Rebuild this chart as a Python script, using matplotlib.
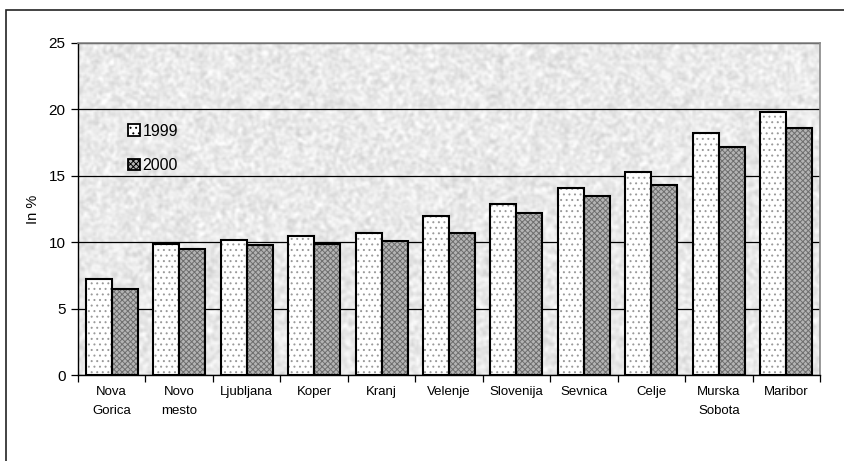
import numpy as np
import matplotlib
matplotlib.use("Agg")
import matplotlib.pyplot as plt
from matplotlib.patches import Rectangle, Patch

plt.rcParams["font.family"] = ["Liberation Sans", "DejaVu Sans"]
plt.rcParams["hatch.linewidth"] = 0.7

cities = ["Nova\nGorica", "Novo\nmesto", "Ljubljana", "Koper", "Kranj", "Velenje",
          "Slovenija", "Sevnica", "Celje", "Murska\nSobota", "Maribor"]
y1999 = [7.2, 9.9, 10.2, 10.5, 10.7, 12.0, 12.9, 14.1, 15.3, 18.2, 19.8]
y2000 = [6.5, 9.5, 9.8, 9.9, 10.1, 10.7, 12.2, 13.5, 14.3, 17.2, 18.6]

fig = plt.figure(figsize=(8.44, 4.61), dpi=100)
# outer frame of the chart object
fig.patches.append(Rectangle((6 / 844, -0.1), 1.2, 1 - 10 / 461 + 0.1,
                             transform=fig.transFigure, fill=False,
                             edgecolor="#222222", lw=1.2))
ax = fig.add_axes([78 / 844, 1 - 375 / 461, 742 / 844, 332 / 461])

# granite-like plot area fill
rng = np.random.default_rng(7)
tex = rng.random((200, 440))
k = np.array([0.25, 0.5, 0.25])
tex = np.apply_along_axis(lambda r: np.convolve(r, k, mode="same"), 1, tex)
tex = np.apply_along_axis(lambda c: np.convolve(c, k, mode="same"), 0, tex)
tex = tex[2:-2, 2:-2]
tex = (tex - tex.mean()) / tex.std()
n = len(cities)
ax.imshow(0.915 + 0.03 * tex, cmap="gray", vmin=0, vmax=1, aspect="auto",
          extent=(-0.5, n - 0.5, 0, 25), zorder=0, interpolation="bilinear")

x = np.arange(n)
w = 0.385
# pattern fills first, then black outlines on top
ax.bar(x - w / 2, y1999, w, color="white", edgecolor="#9a9a9a", lw=0,
       hatch="...", zorder=3)
ax.bar(x + w / 2, y2000, w, color="#b4b4b4", edgecolor="#6e6e6e", lw=0,
       hatch="xxxxxx", zorder=3)
ax.bar(x - w / 2, y1999, w, fill=False, edgecolor="black", lw=1.5, zorder=4)
ax.bar(x + w / 2, y2000, w, fill=False, edgecolor="black", lw=1.5, zorder=4)

ax.set_xlim(-0.5, n - 0.5)
ax.set_ylim(0, 25)
ax.set_yticks([0, 5, 10, 15, 20, 25])
ax.yaxis.grid(True, color="black", lw=0.9, zorder=1)
ax.set_axisbelow(True)
ax.set_xticks(x)
ax.set_xticklabels(cities, fontsize=9.5, linespacing=1.75)
ax.set_xticks(np.arange(n + 1) - 0.5, minor=True)
ax.tick_params(axis="x", which="major", length=0, pad=8)
ax.tick_params(axis="x", which="minor", length=5, direction="out", width=0.9)
ax.tick_params(axis="y", length=5, width=0.9, labelsize=11, pad=4)
for s in ["top", "right"]:
    ax.spines[s].set_color("#888888")
    ax.spines[s].set_linewidth(1.2)
for s in ["left", "bottom"]:
    ax.spines[s].set_color("black")
    ax.spines[s].set_linewidth(1.0)
ax.set_ylabel("In %", fontsize=10.5, labelpad=6)

handles = [Patch(facecolor="white", edgecolor="black", lw=1.3, hatch="...", label="1999"),
           Patch(facecolor="#b4b4b4", edgecolor="black", lw=1.3, hatch="xxxxxx", label="2000")]
ax.legend(handles=handles, loc="upper left", bbox_to_anchor=(0.048, 0.80),
          frameon=False, fontsize=11.5, handlelength=0.75, handleheight=0.75,
          handletextpad=0.15, labelspacing=1.2)

fig.savefig("out.png", dpi=100)
